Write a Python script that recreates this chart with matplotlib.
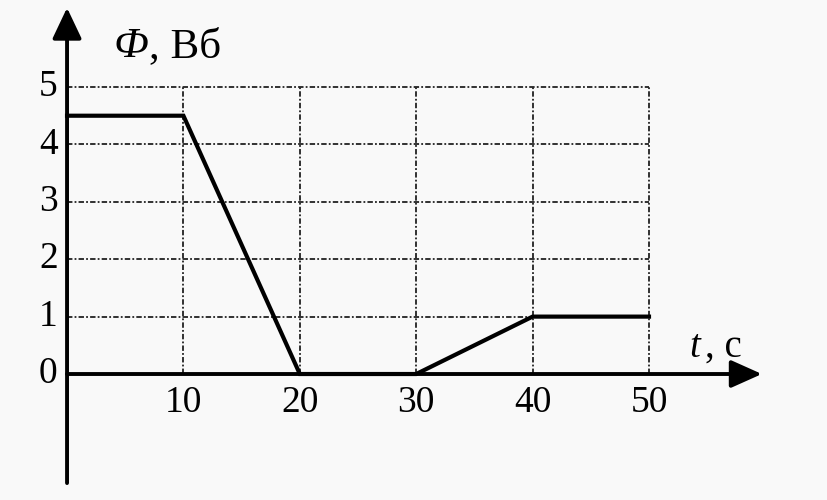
import matplotlib
matplotlib.use("Agg")
import matplotlib.pyplot as plt

# data
t_points = [0, 10, 20, 30, 40, 50]
flux_values = [4.5, 4.5, 0, 0, 1, 1]
x_ticks = [10, 20, 30, 40, 50]
y_ticks = [0, 1, 2, 3, 4, 5]

plt.rcParams["font.family"] = ["Liberation Serif", "DejaVu Serif"]

fig = plt.figure(figsize=(8.28, 5.0), dpi=100)
fig.patch.set_facecolor("#f9f9f9")
ax = fig.add_axes([0, 0, 1, 1])
ax.set_facecolor("#f9f9f9")
ax.set_xlim(-5.76, 65.38)
ax.set_ylim(-2.195, 6.516)
ax.axis("off")

grid_style = dict(color="#222222", linewidth=1.3, linestyle=(0, (3, 1.2, 1, 1.2)))
for x in x_ticks:
    ax.plot([x, x], [0, y_ticks[-1]], **grid_style)
for y in y_ticks[1:]:
    ax.plot([0, x_ticks[-1]], [y, y], **grid_style)

# axes with arrows
ax.annotate("", xy=(59.7, 0), xytext=(0, 0),
            arrowprops=dict(arrowstyle="-|>,head_length=1.9,head_width=0.85",
                            mutation_scale=10, color="black", lw=2.8,
                            shrinkA=0, shrinkB=0))
ax.annotate("", xy=(0, 6.38), xytext=(0, -1.9),
            arrowprops=dict(arrowstyle="-|>,head_length=1.9,head_width=0.9",
                            mutation_scale=10, color="black", lw=2.8,
                            shrinkA=0, shrinkB=0))

ax.plot(t_points, flux_values, color="black", linewidth=3.0, solid_joinstyle="miter")

for y in y_ticks:
    ax.text(-0.8, y, str(y), fontsize=27, ha="right", va="center")
for x in x_ticks:
    ax.text(x, -0.2, str(x), fontsize=27, ha="center", va="top")

ax.text(3.95, 5.52, "Ф", fontsize=31, style="italic", ha="left", va="baseline")
ax.text(7.0, 5.52, ", Вб", fontsize=31, ha="left", va="baseline")
ax.text(53.5, 0.3, "t", fontsize=28, style="italic", ha="left", va="baseline")
ax.text(54.8, 0.3, ", c", fontsize=28, ha="left", va="baseline")

fig.savefig("out.png", dpi=100, facecolor=fig.get_facecolor())
